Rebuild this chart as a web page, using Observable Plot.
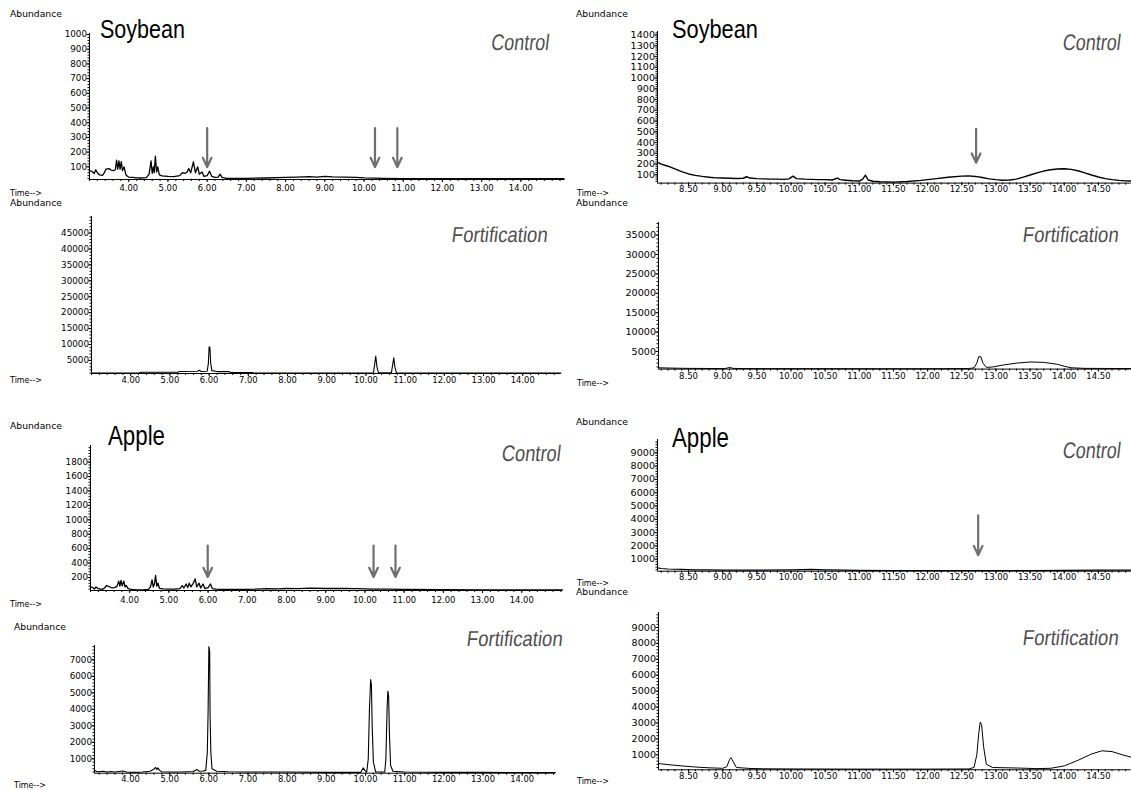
<!DOCTYPE html>
<html><head><meta charset="utf-8">
<script src="https://cdn.jsdelivr.net/npm/d3@7"></script>
<script src="https://cdn.jsdelivr.net/npm/@observablehq/plot@0.6"></script>
<style>
html,body{margin:0;padding:0;background:#fff;}
#page{position:relative;width:1131px;height:790px;overflow:hidden;background:#fff;}
</style></head><body><div id="page"></div>
<script>
// ---------- DATA ----------
const samples = ["Soybean", "Apple"];
const conditions = ["Control", "Fortification"];
const yAxisName = "Abundance";
const xAxisName = "Time-->";

const leftTimeTicks = [4, 5, 6, 7, 8, 9, 10, 11, 12, 13, 14];
const rightTimeTicks = [8.5, 9, 9.5, 10, 10.5, 11, 11.5, 12, 12.5, 13, 13.5, 14, 14.5];

const soyCtrlLeftTicks = [100, 200, 300, 400, 500, 600, 700, 800, 900, 1000];
const soyFortLeftTicks = [5000, 10000, 15000, 20000, 25000, 30000, 35000, 40000, 45000];
const appleCtrlLeftTicks = [200, 400, 600, 800, 1000, 1200, 1400, 1600, 1800];
const appleFortLeftTicks = [1000, 2000, 3000, 4000, 5000, 6000, 7000];
const soyCtrlRightTicks = [100, 200, 300, 400, 500, 600, 700, 800, 900, 1000, 1100, 1200, 1300, 1400];
const soyFortRightTicks = [5000, 10000, 15000, 20000, 25000, 30000, 35000];
const appleCtrlRightTicks = [1000, 2000, 3000, 4000, 5000, 6000, 7000, 8000, 9000];
const appleFortRightTicks = [1000, 2000, 3000, 4000, 5000, 6000, 7000, 8000, 9000];

// [time (min), abundance]
const soyCtrlLeft = [[3.0,75],[3.06,70],[3.12,55],[3.16,80],[3.2,60],[3.26,45],[3.33,42],[3.38,60],[3.42,85],[3.5,88],[3.55,78],[3.62,75],[3.66,80],[3.69,145],[3.72,85],[3.75,140],[3.78,85],[3.81,135],[3.84,75],[3.88,100],[3.93,45],[4.0,30],[4.1,28],[4.2,25],[4.3,24],[4.45,26],[4.52,50],[4.57,140],[4.6,55],[4.63,100],[4.65,60],[4.68,172],[4.71,65],[4.74,100],[4.78,45],[4.85,38],[5.0,35],[5.15,33],[5.3,40],[5.37,60],[5.43,55],[5.49,65],[5.53,89],[5.58,60],[5.65,134],[5.7,60],[5.76,100],[5.8,50],[5.87,65],[5.92,35],[6.0,40],[6.06,70],[6.12,35],[6.2,28],[6.28,30],[6.33,50],[6.38,28],[6.5,22],[7.0,22],[7.5,24],[8.0,28],[8.3,30],[8.6,33],[8.8,30],[9.0,35],[9.2,32],[9.5,30],[9.8,28],[10.0,25],[10.5,22],[11.0,20],[12.0,20],[13.0,20],[14.0,20],[15.1,20]];
const soyFortLeft = [[3.0,1000],[4.2,1000],[4.25,1300],[5.2,1300],[5.25,1500],[5.7,1600],[5.75,1900],[5.8,1500],[5.95,1600],[5.98,4000],[6.0,9300],[6.02,9000],[6.04,4200],[6.07,1800],[6.2,1500],[6.5,1500],[6.55,1200],[7.1,1200],[7.15,1000],[10.19,1000],[10.22,3500],[10.25,6400],[10.28,3000],[10.32,1100],[10.65,1100],[10.68,3500],[10.71,5800],[10.74,2800],[10.78,1000],[14.97,1000]];
const appleCtrlLeft = [[3.0,70],[3.06,60],[3.1,40],[3.14,70],[3.2,45],[3.3,35],[3.36,55],[3.41,89],[3.47,75],[3.55,55],[3.62,60],[3.68,80],[3.72,150],[3.75,80],[3.78,160],[3.81,85],[3.85,150],[3.88,70],[3.91,90],[3.96,45],[4.05,35],[4.2,28],[4.35,28],[4.48,35],[4.53,70],[4.57,168],[4.6,70],[4.63,110],[4.66,228],[4.69,80],[4.72,121],[4.76,50],[4.85,42],[5.0,40],[5.15,38],[5.28,45],[5.34,89],[5.38,55],[5.44,110],[5.48,60],[5.52,121],[5.56,70],[5.62,120],[5.67,182],[5.71,70],[5.77,121],[5.81,55],[5.87,110],[5.92,45],[6.0,60],[6.06,110],[6.11,45],[6.2,38],[6.4,34],[6.8,34],[7.2,38],[7.5,45],[7.8,42],[8.0,48],[8.3,45],[8.6,52],[9.0,48],[9.4,50],[9.8,45],[10.2,40],[10.6,38],[11.0,35],[12.0,32],[13.0,30],[14.0,30],[15.04,30]];
const appleFortLeft = [[3.08,300],[3.15,220],[3.3,250],[3.4,200],[3.5,230],[3.6,200],[3.8,260],[3.9,200],[4.1,180],[4.3,200],[4.5,250],[4.6,380],[4.64,480],[4.67,350],[4.7,450],[4.74,300],[4.8,220],[5.0,200],[5.3,200],[5.6,230],[5.7,350],[5.75,250],[5.85,260],[5.92,300],[5.96,1400],[5.98,3800],[6.0,7800],[6.02,7500],[6.03,3800],[6.05,1400],[6.08,400],[6.2,250],[6.5,220],[7.0,200],[8.0,200],[9.0,180],[9.88,180],[9.94,450],[9.98,300],[10.03,200],[10.07,1000],[10.1,4000],[10.13,5800],[10.15,5500],[10.17,3000],[10.2,800],[10.26,200],[10.49,200],[10.52,1000],[10.55,4000],[10.57,5100],[10.59,4800],[10.61,2500],[10.64,600],[10.7,250],[11.0,200],[12.0,180],[13.0,180],[14.0,170],[14.85,170]];
const soyCtrlRight = [[8.05,215],[8.1,200],[8.2,180],[8.3,155],[8.4,130],[8.5,108],[8.6,95],[8.7,85],[8.8,78],[8.9,72],[9.0,70],[9.1,68],[9.2,66],[9.3,68],[9.35,82],[9.4,70],[9.5,65],[9.6,62],[9.7,60],[9.8,60],[9.9,58],[9.97,62],[10.03,88],[10.08,65],[10.2,60],[10.3,58],[10.4,55],[10.5,55],[10.6,52],[10.68,70],[10.72,55],[10.8,50],[10.9,45],[11.0,42],[11.05,60],[11.09,97],[11.13,52],[11.2,40],[11.3,35],[11.5,32],[11.7,38],[11.9,48],[12.1,62],[12.3,78],[12.5,88],[12.6,90],[12.7,85],[12.8,75],[12.9,62],[13.0,55],[13.1,50],[13.2,52],[13.3,60],[13.4,78],[13.5,98],[13.6,118],[13.7,135],[13.8,147],[13.9,154],[14.0,156],[14.1,151],[14.2,138],[14.3,118],[14.4,98],[14.5,80],[14.6,65],[14.7,55],[14.8,48],[14.9,44],[14.98,42]];
const soyFortRight = [[8.06,800],[8.3,700],[8.5,650],[9.0,600],[9.05,650],[9.1,900],[9.15,650],[9.3,600],[10.0,580],[11.0,560],[12.0,560],[12.6,600],[12.68,800],[12.72,2000],[12.75,3700],[12.78,3600],[12.81,2000],[12.86,900],[12.95,1000],[13.1,1500],[13.3,2000],[13.5,2300],[13.7,2200],[13.9,1700],[14.0,1200],[14.1,800],[14.3,650],[14.98,600]];
const appleCtrlRight = [[8.05,350],[8.1,300],[8.2,260],[8.4,230],[8.6,200],[8.8,190],[9.0,180],[9.5,170],[10.0,190],[10.3,230],[10.5,200],[10.8,180],[11.0,160],[11.5,150],[12.0,150],[12.5,150],[13.0,150],[13.5,150],[14.0,160],[14.5,170],[14.98,170]];
const appleFortRight = [[8.06,450],[8.2,380],[8.4,300],[8.6,230],[8.8,180],[9.0,150],[9.06,250],[9.1,700],[9.12,820],[9.15,600],[9.2,200],[9.4,140],[9.6,120],[10.0,110],[11.0,100],[12.0,100],[12.6,110],[12.68,200],[12.72,1000],[12.75,2400],[12.77,3050],[12.79,2900],[12.82,1500],[12.86,400],[12.95,200],[13.3,170],[13.6,130],[13.8,150],[14.0,300],[14.2,650],[14.4,1050],[14.55,1250],[14.7,1200],[14.85,1000],[14.98,850]];

// arrows marking analyte retention times: times and [top, bottom] abundance
const soyCtrlLeftArrows = [6.0, 10.28, 10.85];
const soyCtrlLeftArrowSpan = [363, 98];
const appleCtrlLeftArrows = [5.99, 10.22, 10.78];
const appleCtrlLeftArrowSpan = [644, 206];
const soyCtrlRightArrows = [12.71];
const soyCtrlRightArrowSpan = [528, 212];
const appleCtrlRightArrows = [12.74];
const appleCtrlRightArrowSpan = [4300, 1300];

// ---------- LAYOUT ----------
const L = {xTicks: leftTimeTicks, xMinorStep: 0.2, yFont: 8.8, xFont: 8.4};
const R = {xTicks: rightTimeTicks, xMinorStep: 0.1, yFont: 9.6, xFont: 8.5};
const panels = [
  {...L, trace: soyCtrlLeft, yTicks: soyCtrlLeftTicks, x0: 89.3, x1: 565, y0: 33.3, y1: 179.3, xDomain: [3.0, 15.13], yDomain: [14, 1007], xOff: 8.7, sw: 1.3, arrows: soyCtrlLeftArrows, arrowSpan: soyCtrlLeftArrowSpan,
   abund: [10, 17], time: [10, 196], title: {s: 0, x: 100, y: 38, size: 26, len: 85}, cond: {c: 0, x: 548.5, y: 50, size: 22.5, len: 58}},
  {...L, trace: soyFortLeft, yTicks: soyFortLeftTicks, x0: 90.7, x1: 560, y0: 215.7, y1: 372.7, xDomain: [3.0, 14.97], yDomain: [900, 50200], xOff: 6.5, sw: 1.1,
   abund: [10, 205.5], time: [10, 383], cond: {c: 1, x: 547, y: 242, size: 21.5, len: 96}},
  {...L, trace: appleCtrlLeft, yTicks: appleCtrlLeftTicks, x0: 90, x1: 562, y0: 445, y1: 590, xDomain: [3.0, 15.04], yDomain: [20, 2030], xOff: 9.3, sw: 1.3, arrows: appleCtrlLeftArrows, arrowSpan: appleCtrlLeftArrowSpan,
   abund: [10, 428.5], time: [10, 607], title: {s: 1, x: 108, y: 444.5, size: 27, len: 57}, cond: {c: 0, x: 560, y: 461, size: 22.5, len: 59}},
  {...L, trace: appleFortLeft, yTicks: appleFortLeftTicks, x0: 94, x1: 555, y0: 645, y1: 772.7, xDomain: [3.08, 14.85], yDomain: [130, 7870], xOff: 6.3, sw: 1.1,
   abund: [14, 630], time: [14, 788], cond: {c: 1, x: 562, y: 646, size: 21.5, len: 96}},
  {...R, trace: soyCtrlRight, yTicks: soyCtrlRightTicks, x0: 657.3, x1: 1131, y0: 30.7, y1: 182.3, xDomain: [8.046, 14.98], yDomain: [23, 1433], xOff: 6, sw: 1.4, arrows: soyCtrlRightArrows, arrowSpan: soyCtrlRightArrowSpan,
   abund: [576, 17], time: [577, 196], title: {s: 0, x: 672, y: 38, size: 26, len: 86}, cond: {c: 0, x: 1120, y: 50, size: 22.5, len: 58}},
  {...R, trace: soyFortRight, yTicks: soyFortRightTicks, x0: 658.3, x1: 1131, y0: 221.7, y1: 368.3, xDomain: [8.06, 14.98], yDomain: [464, 38250], xOff: 6.7, sw: 1.0,
   abund: [576, 205.5], time: [577, 385.5], cond: {c: 1, x: 1118, y: 242, size: 21.5, len: 96}},
  {...R, trace: appleCtrlRight, yTicks: appleCtrlRightTicks, x0: 657.3, x1: 1131, y0: 439.3, y1: 571, xDomain: [8.046, 14.98], yDomain: [97, 10000], xOff: 5, sw: 1.2, arrows: appleCtrlRightArrows, arrowSpan: appleCtrlRightArrowSpan,
   abund: [576, 425], time: [577, 586], title: {s: 1, x: 672, y: 446.5, size: 27, len: 57}, cond: {c: 0, x: 1120, y: 458, size: 22.5, len: 58}},
  {...R, trace: appleFortRight, yTicks: appleFortRightTicks, x0: 658.3, x1: 1131, y0: 611.7, y1: 769, xDomain: [8.06, 14.98], yDomain: [57, 9943], xOff: 6, sw: 1.0,
   abund: [576, 594.5], time: [577, 784], cond: {c: 1, x: 1118, y: 644.5, size: 21.5, len: 96}}
];

const page = document.getElementById("page");

function drawPanel(p) {
  const ml = 60, mr = 0, mt = 4, mb = 18;
  const width = p.x1 - p.x0 + ml + mr;
  const height = p.y1 - p.y0 + mt + mb;
  const yStep = (p.yTicks[1] - p.yTicks[0]) / 5;
  const yMinor = d3.range(Math.ceil(p.yDomain[0] / yStep) * yStep, p.yDomain[1], yStep);
  const xs = p.xMinorStep;
  const xMinor = d3.range(Math.ceil(p.xDomain[0] / xs - 1e-9), Math.floor(p.xDomain[1] / xs + 1e-9) + 1).map(i => i * xs);
  const pad = Math.max(0, p.xOff - 6);
  const marks = [
    Plot.axisY({ticks: yMinor, anchor: "left", tickSize: 1.5, tickFormat: () => "", label: null}),
    Plot.axisY({ticks: p.yTicks, anchor: "left", tickSize: 2.5, tickPadding: 0, label: null, fontSize: p.yFont, tickFormat: d => String(d)}),
    Plot.axisX({ticks: xMinor, anchor: "bottom", tickSize: 2, tickFormat: () => "", label: null}),
    Plot.axisX({ticks: p.xTicks, anchor: "bottom", tickSize: 3, tickPadding: pad, tickFormat: d => d.toFixed(2), label: null, fontSize: p.xFont}),
    Plot.ruleX([p.xDomain[0]], {stroke: "#000", strokeWidth: 1}),
    Plot.ruleY([p.yDomain[0]], {stroke: "#000", strokeWidth: 1}),
    Plot.line(p.trace, {x: d => d[0], y: d => d[1], stroke: "#000", strokeWidth: p.sw})
  ];
  if (p.arrows) {
    marks.push(Plot.arrow(p.arrows, {x1: d => d, x2: d => d, y1: () => p.arrowSpan[0], y2: () => p.arrowSpan[1],
      stroke: "#6f6f6f", strokeWidth: 2.2, headLength: 7, headAngle: 50}));
  }
  const svg = Plot.plot({
    width, height, marginLeft: ml, marginRight: mr, marginTop: mt, marginBottom: mb,
    style: {fontFamily: "'DejaVu Sans', sans-serif", background: "transparent", color: "#000"},
    x: {domain: p.xDomain},
    y: {domain: p.yDomain},
    marks
  });
  svg.style.position = "absolute";
  svg.style.left = (p.x0 - ml) + "px";
  svg.style.top = (p.y0 - mt) + "px";
  svg.style.maxWidth = "none";
  svg.style.overflow = "visible";
  page.appendChild(svg);
}
panels.forEach(drawPanel);

// ---------- TEXT OVERLAY ----------
const ns = "http://www.w3.org/2000/svg";
const ov = document.createElementNS(ns, "svg");
ov.setAttribute("width", 1131); ov.setAttribute("height", 790);
ov.style.position = "absolute"; ov.style.left = "0"; ov.style.top = "0"; ov.style.pointerEvents = "none";
page.appendChild(ov);
// text squeezed horizontally to a target width; (x, y) = anchor point on the baseline
function txt(str, x, y, o) {
  const t = document.createElementNS(ns, "text");
  t.textContent = str;
  t.setAttribute("x", 0); t.setAttribute("y", 0);
  t.setAttribute("font-family", o.family);
  t.setAttribute("font-size", o.size);
  t.setAttribute("fill", o.fill || "#000");
  if (o.anchor) t.setAttribute("text-anchor", o.anchor);
  ov.appendChild(t);
  const natural = t.getComputedTextLength() || o.len;
  const sx = o.len / natural;
  const skew = o.skew ? ` skewX(${o.skew})` : "";
  t.setAttribute("transform", `translate(${x},${y})${skew} scale(${sx},1)`);
}
panels.forEach(p => {
  txt(yAxisName, p.abund[0], p.abund[1], {family: "DejaVu Sans", size: 8.5, len: 52});
  txt(xAxisName, p.time[0], p.time[1], {family: "DejaVu Sans", size: 8.5, len: 32});
  if (p.title) txt(samples[p.title.s], p.title.x, p.title.y, {family: "Liberation Sans, Arial, sans-serif", size: p.title.size, len: p.title.len});
  if (p.cond) txt(conditions[p.cond.c], p.cond.x, p.cond.y, {family: "Liberation Sans, Arial, sans-serif", size: p.cond.size, len: p.cond.len, anchor: "end", fill: "#505050", skew: -7});
});
</script></body></html>
